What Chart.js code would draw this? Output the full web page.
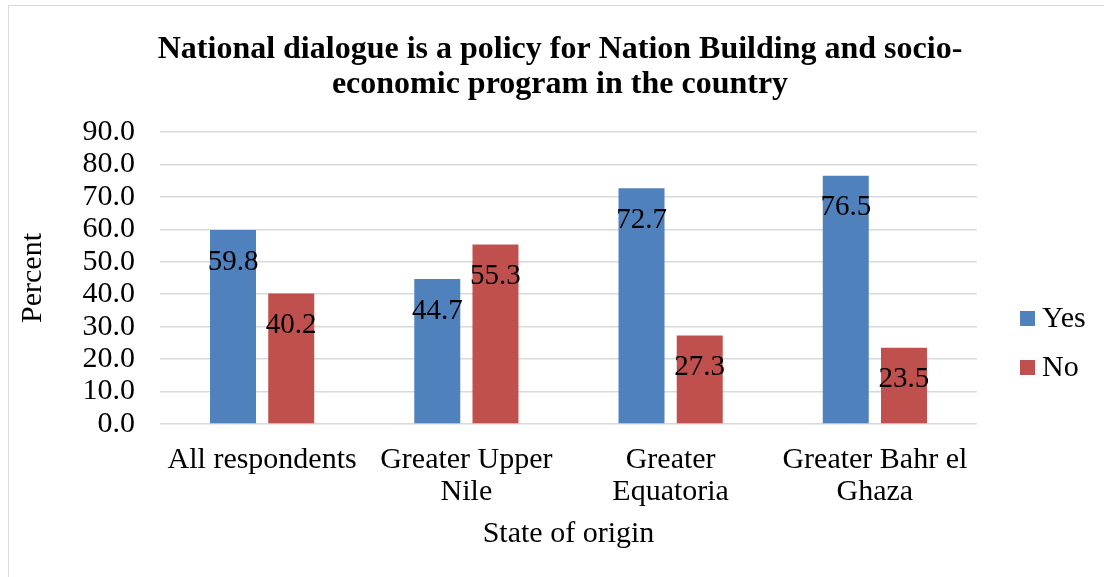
<!DOCTYPE html>
<html>
<head>
<meta charset="utf-8">
<title>National dialogue by state of origin</title>
<script src="https://cdn.jsdelivr.net/npm/chart.js@4.4.1/dist/chart.umd.min.js"></script>
<style>
    html, body { margin: 0; padding: 0; background: #fff; overflow: hidden; }
    .frame {
        position: absolute; left: 8px; top: 5px;
        width: 1110px; height: 590px;
        border: 1px solid #d9d9d9;
    }
    #opinionChart { position: absolute; left: 0; top: 0; }
</style>
</head>
<body>
<div class="frame"></div>
<canvas id="opinionChart" width="1104" height="577"></canvas>
<script>
// Share of respondents (%) by state of origin
const regions = [
    'All respondents',
    ['Greater Upper', 'Nile'],
    ['Greater', 'Equatoria'],
    ['Greater Bahr el', 'Ghaza']
];
const yesValues = [59.8, 44.7, 72.7, 76.5];
const noValues = [40.2, 55.3, 27.3, 23.5];
const yTicks = [0, 10, 20, 30, 40, 50, 60, 70, 80, 90];
const titleLines = [
    'National dialogue is a policy for Nation Building and socio-',
    'economic program in the country'
];

const serif = '"Liberation Serif", "Times New Roman", serif';
const textColor = '#000';

// Two-line bold heading, centred over the whole frame rather than the plot
const chartHeading = {
    id: 'chartHeading',
    afterDraw(chart) {
        const ctx = chart.ctx;
        ctx.save();
        ctx.font = 'bold 32px ' + serif;
        ctx.fillStyle = textColor;
        ctx.textAlign = 'center';
        ctx.textBaseline = 'middle';
        titleLines.forEach((line, i) => ctx.fillText(line, 560, 50 + i * 35));
        ctx.restore();
    }
};

// Value labels sit just inside the top of each bar
const barValueLabels = {
    id: 'barValueLabels',
    afterDatasetsDraw(chart) {
        const ctx = chart.ctx;
        ctx.save();
        ctx.font = '29px ' + serif;
        ctx.fillStyle = textColor;
        ctx.textAlign = 'center';
        ctx.textBaseline = 'middle';
        chart.data.datasets.forEach((ds, i) => {
            chart.getDatasetMeta(i).data.forEach((bar, j) => {
                ctx.fillText(ds.data[j].toFixed(1), bar.x, bar.y + 32);
            });
        });
        ctx.restore();
    }
};

// Legend on the right: small square swatch + series name
const sideLegend = {
    id: 'sideLegend',
    afterDraw(chart) {
        const ctx = chart.ctx;
        ctx.save();
        ctx.font = '30px ' + serif;
        ctx.textBaseline = 'middle';
        ctx.textAlign = 'left';
        const rowY = [318, 367];
        chart.data.datasets.forEach((ds, i) => {
            ctx.fillStyle = ds.backgroundColor;
            ctx.fillRect(1020, rowY[i] - 7, 15, 15);
            ctx.fillStyle = textColor;
            ctx.fillText(ds.label, 1042, rowY[i] + 1);
        });
        ctx.restore();
    }
};

const ctx = document.getElementById('opinionChart').getContext('2d');

const config = {
    type: 'bar',
    data: {
        labels: regions,
        datasets: [
            { label: 'Yes', data: yesValues, backgroundColor: '#4f81bd' },
            { label: 'No', data: noValues, backgroundColor: '#c0504d' }
        ]
    },
    options: {
        responsive: false,
        animation: false,
        categoryPercentage: 0.57,
        barPercentage: 0.79,
        layout: {
            padding: { top: 132, right: 127, bottom: 27, left: 9 }
        },
        plugins: {
            legend: { display: false },
            tooltip: { enabled: false },
            title: { display: false }
        },
        scales: {
            x: {
                afterFit(scale) { scale.height = 126; },
                grid: { display: false, drawTicks: false },
                border: { display: false },
                ticks: {
                    color: textColor,
                    font: { family: serif, size: 30, lineHeight: 1.07 },
                    padding: 20,
                    maxRotation: 0,
                    autoSkip: false
                },
                title: {
                    display: true,
                    text: 'State of origin',
                    color: textColor,
                    font: { family: serif, size: 30, lineHeight: 1.07 },
                    padding: { top: 0, bottom: 0 }
                }
            },
            y: {
                min: 0,
                max: 90,
                afterFit(scale) { scale.width = 151; },
                afterBuildTicks(scale) { scale.ticks = yTicks.map(v => ({ value: v })); },
                grid: { color: '#d9d9d9', lineWidth: 1.5, drawTicks: false },
                border: { display: false },
                ticks: {
                    color: textColor,
                    font: { family: serif, size: 30 },
                    padding: 25,
                    autoSkip: false,
                    callback: v => Number(v).toFixed(1)
                },
                title: {
                    display: true,
                    text: 'Percent',
                    color: textColor,
                    font: { family: serif, size: 30, lineHeight: 1.07 },
                    padding: { top: 8, bottom: 0 }
                }
            }
        }
    },
    plugins: [barValueLabels, sideLegend, chartHeading]
};

const opinionChart = new Chart(ctx, config);
</script>
</body>
</html>
